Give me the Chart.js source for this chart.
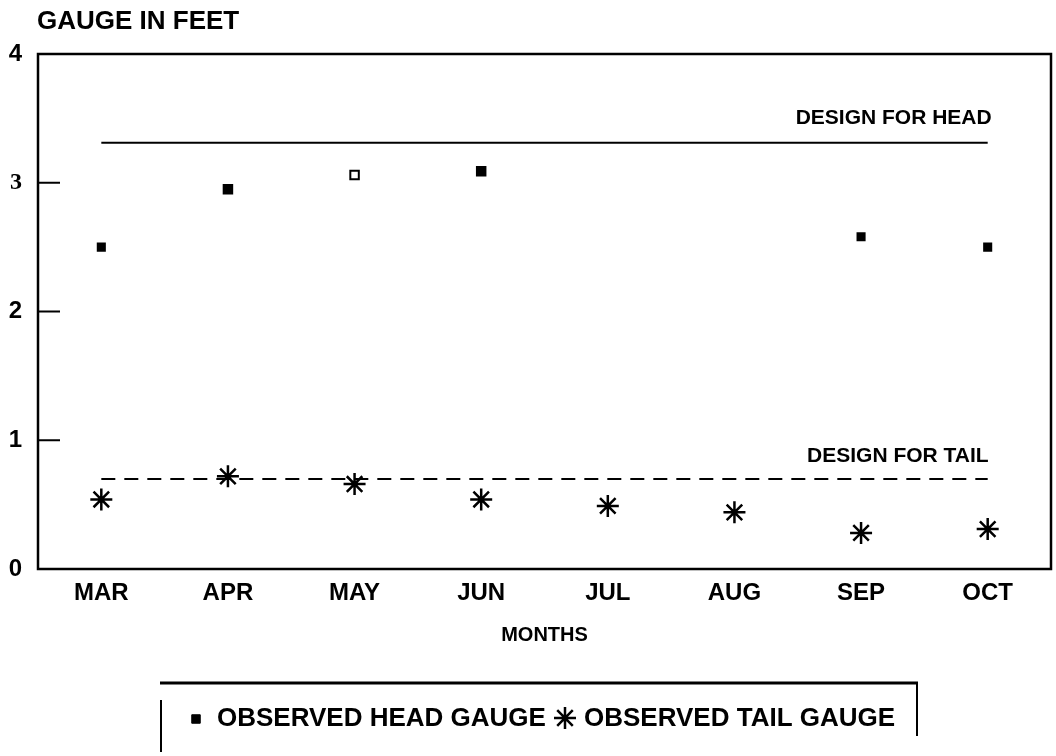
<!DOCTYPE html>
<html>
<head>
<meta charset="utf-8">
<script src="https://cdn.jsdelivr.net/npm/chart.js@4.4.1/dist/chart.umd.min.js"></script>
<style>
  html, body { margin: 0; padding: 0; background: #fff; }
  canvas { display: block; }
</style>
</head>
<body>
<canvas id="gauge" width="1056" height="756"></canvas>
<script>
/* ── data ── */
const months     = ['MAR', 'APR', 'MAY', 'JUN', 'JUL', 'AUG', 'SEP', 'OCT'];
const headGauge  = [2.50, 2.95, 3.06, 3.09, null, null, 2.58, 2.50];
const tailGauge  = [0.54, 0.72, 0.66, 0.54, 0.49, 0.44, 0.28, 0.31];
const designHead = [3.31, 3.31, 3.31, 3.31, 3.31, 3.31, 3.31, 3.31];
const designTail = [0.70, 0.70, 0.70, 0.70, 0.70, 0.70, 0.70, 0.70];
const yTicks     = [0, 1, 2, 3, 4];

const FONT  = '"Liberation Sans", Arial, Helvetica, sans-serif';
const SERIF = '"Liberation Serif", "Times New Roman", serif';
const INK   = '#000';

/* ── frame: full box + short inward ticks on the y axis ── */
const framePlugin = {
  id: 'frame',
  afterDraw(chart) {
    const { ctx, chartArea: a, scales: { y } } = chart;
    ctx.save();
    ctx.strokeStyle = INK;
    ctx.lineWidth = 2.5;
    ctx.strokeRect(a.left, a.top, a.right - a.left, a.bottom - a.top);
    ctx.lineWidth = 2;
    yTicks.forEach(v => {
      const py = y.getPixelForValue(v);
      ctx.beginPath();
      ctx.moveTo(a.left, py);
      ctx.lineTo(a.left + 22, py);
      ctx.stroke();
    });
    ctx.restore();
  },
};

/* ── free text: axis title, design labels, legend strip ── */
const textPlugin = {
  id: 'texts',
  afterDraw(chart) {
    const { ctx, scales: { x, y } } = chart;
    const last = months.length - 1;
    ctx.save();
    ctx.fillStyle = INK;
    ctx.textBaseline = 'middle';

    ctx.font = `bold 26px ${FONT}`;
    ctx.textAlign = 'left';
    ctx.fillText('GAUGE IN FEET', 37, 22);

    ctx.font = `bold 21px ${FONT}`;
    ctx.textAlign = 'right';
    ctx.fillText('DESIGN FOR HEAD', x.getPixelForValue(last) + 4, y.getPixelForValue(designHead[last]) - 25);
    ctx.fillText('DESIGN FOR TAIL', x.getPixelForValue(last) + 1, y.getPixelForValue(designTail[last]) - 23);

    // legend box (top rule + two partial side bars, as in the original)
    ctx.strokeStyle = INK;
    ctx.lineWidth = 3;
    ctx.beginPath();
    ctx.moveTo(160, 683); ctx.lineTo(918, 683);
    ctx.stroke();
    ctx.lineWidth = 2;
    ctx.beginPath();
    ctx.moveTo(161, 700); ctx.lineTo(161, 752);
    ctx.moveTo(917, 683); ctx.lineTo(917, 736);
    ctx.stroke();

    const ly = 719;
    const head = chart.data.datasets[2];
    const tail = chart.data.datasets[3];
    ctx.fillStyle = INK;
    ctx.strokeStyle = INK;
    ctx.lineWidth = 1;
    Chart.helpers.drawPoint(ctx, { pointStyle: 'rect', radius: 6, borderWidth: 1, rotation: 0 }, 196, ly);
    ctx.lineWidth = 2.5;
    Chart.helpers.drawPoint(ctx, { pointStyle: 'star', radius: 11, borderWidth: 2.5, rotation: 0 }, 565, ly - 1);

    ctx.font = `bold 26px ${FONT}`;
    ctx.textAlign = 'left';
    ctx.fillText(head.label, 217, ly);
    ctx.fillText(tail.label, 584, ly);
    ctx.restore();
  },
};

new Chart(document.getElementById('gauge'), {
  type: 'line',
  data: {
    labels: months,
    datasets: [
      {
        label: 'DESIGN FOR HEAD',
        data: designHead,
        borderColor: INK,
        borderWidth: 2,
        pointRadius: 0,
      },
      {
        label: 'DESIGN FOR TAIL',
        data: designTail,
        borderColor: INK,
        borderWidth: 2,
        borderDash: [14, 9],
        pointRadius: 0,
      },
      {
        label: 'OBSERVED HEAD GAUGE',
        data: headGauge,
        showLine: false,
        pointStyle: 'rect',
        pointRadius: [5, 6, 6, 6, 0, 0, 5, 5],
        pointBackgroundColor: [INK, INK, '#fff', INK, INK, INK, INK, INK],
        pointBorderColor: INK,
        pointBorderWidth: 2,
      },
      {
        label: 'OBSERVED TAIL GAUGE',
        data: tailGauge,
        showLine: false,
        pointStyle: 'star',
        pointRadius: 11,
        pointBorderColor: INK,
        pointBorderWidth: 2.5,
      },
    ],
  },
  options: {
    responsive: false,
    animation: false,
    layout: { autoPadding: false, padding: { top: 54, right: 5, bottom: 105, left: 0 } },
    plugins: {
      legend:  { display: false },
      tooltip: { enabled: false },
    },
    scales: {
      x: {
        offset: true,
        grid:   { display: false, drawTicks: false },
        border: { display: false },
        ticks:  { color: INK, font: { family: FONT, size: 24, weight: 'bold' }, padding: 10 },
        title:  { display: true, text: 'MONTHS', color: INK, font: { family: FONT, size: 20, weight: 'bold' } },
        afterFit: s => { s.height = 82; s.paddingLeft = 0; s.paddingRight = 0; },
      },
      y: {
        min: 0,
        max: 4,
        grid:   { display: false, drawTicks: false },
        border: { display: false },
        ticks:  {
          stepSize: 1,
          color: INK,
          // the "3" in the original is set in a serif face
          font: c => ({ family: c.tick && c.tick.value === 3 ? SERIF : FONT, size: 24, weight: 'bold' }),
          padding: 16,
        },
        afterFit: s => { s.width = 38; },
      },
    },
  },
  plugins: [framePlugin, textPlugin],
});
</script>
</body>
</html>
